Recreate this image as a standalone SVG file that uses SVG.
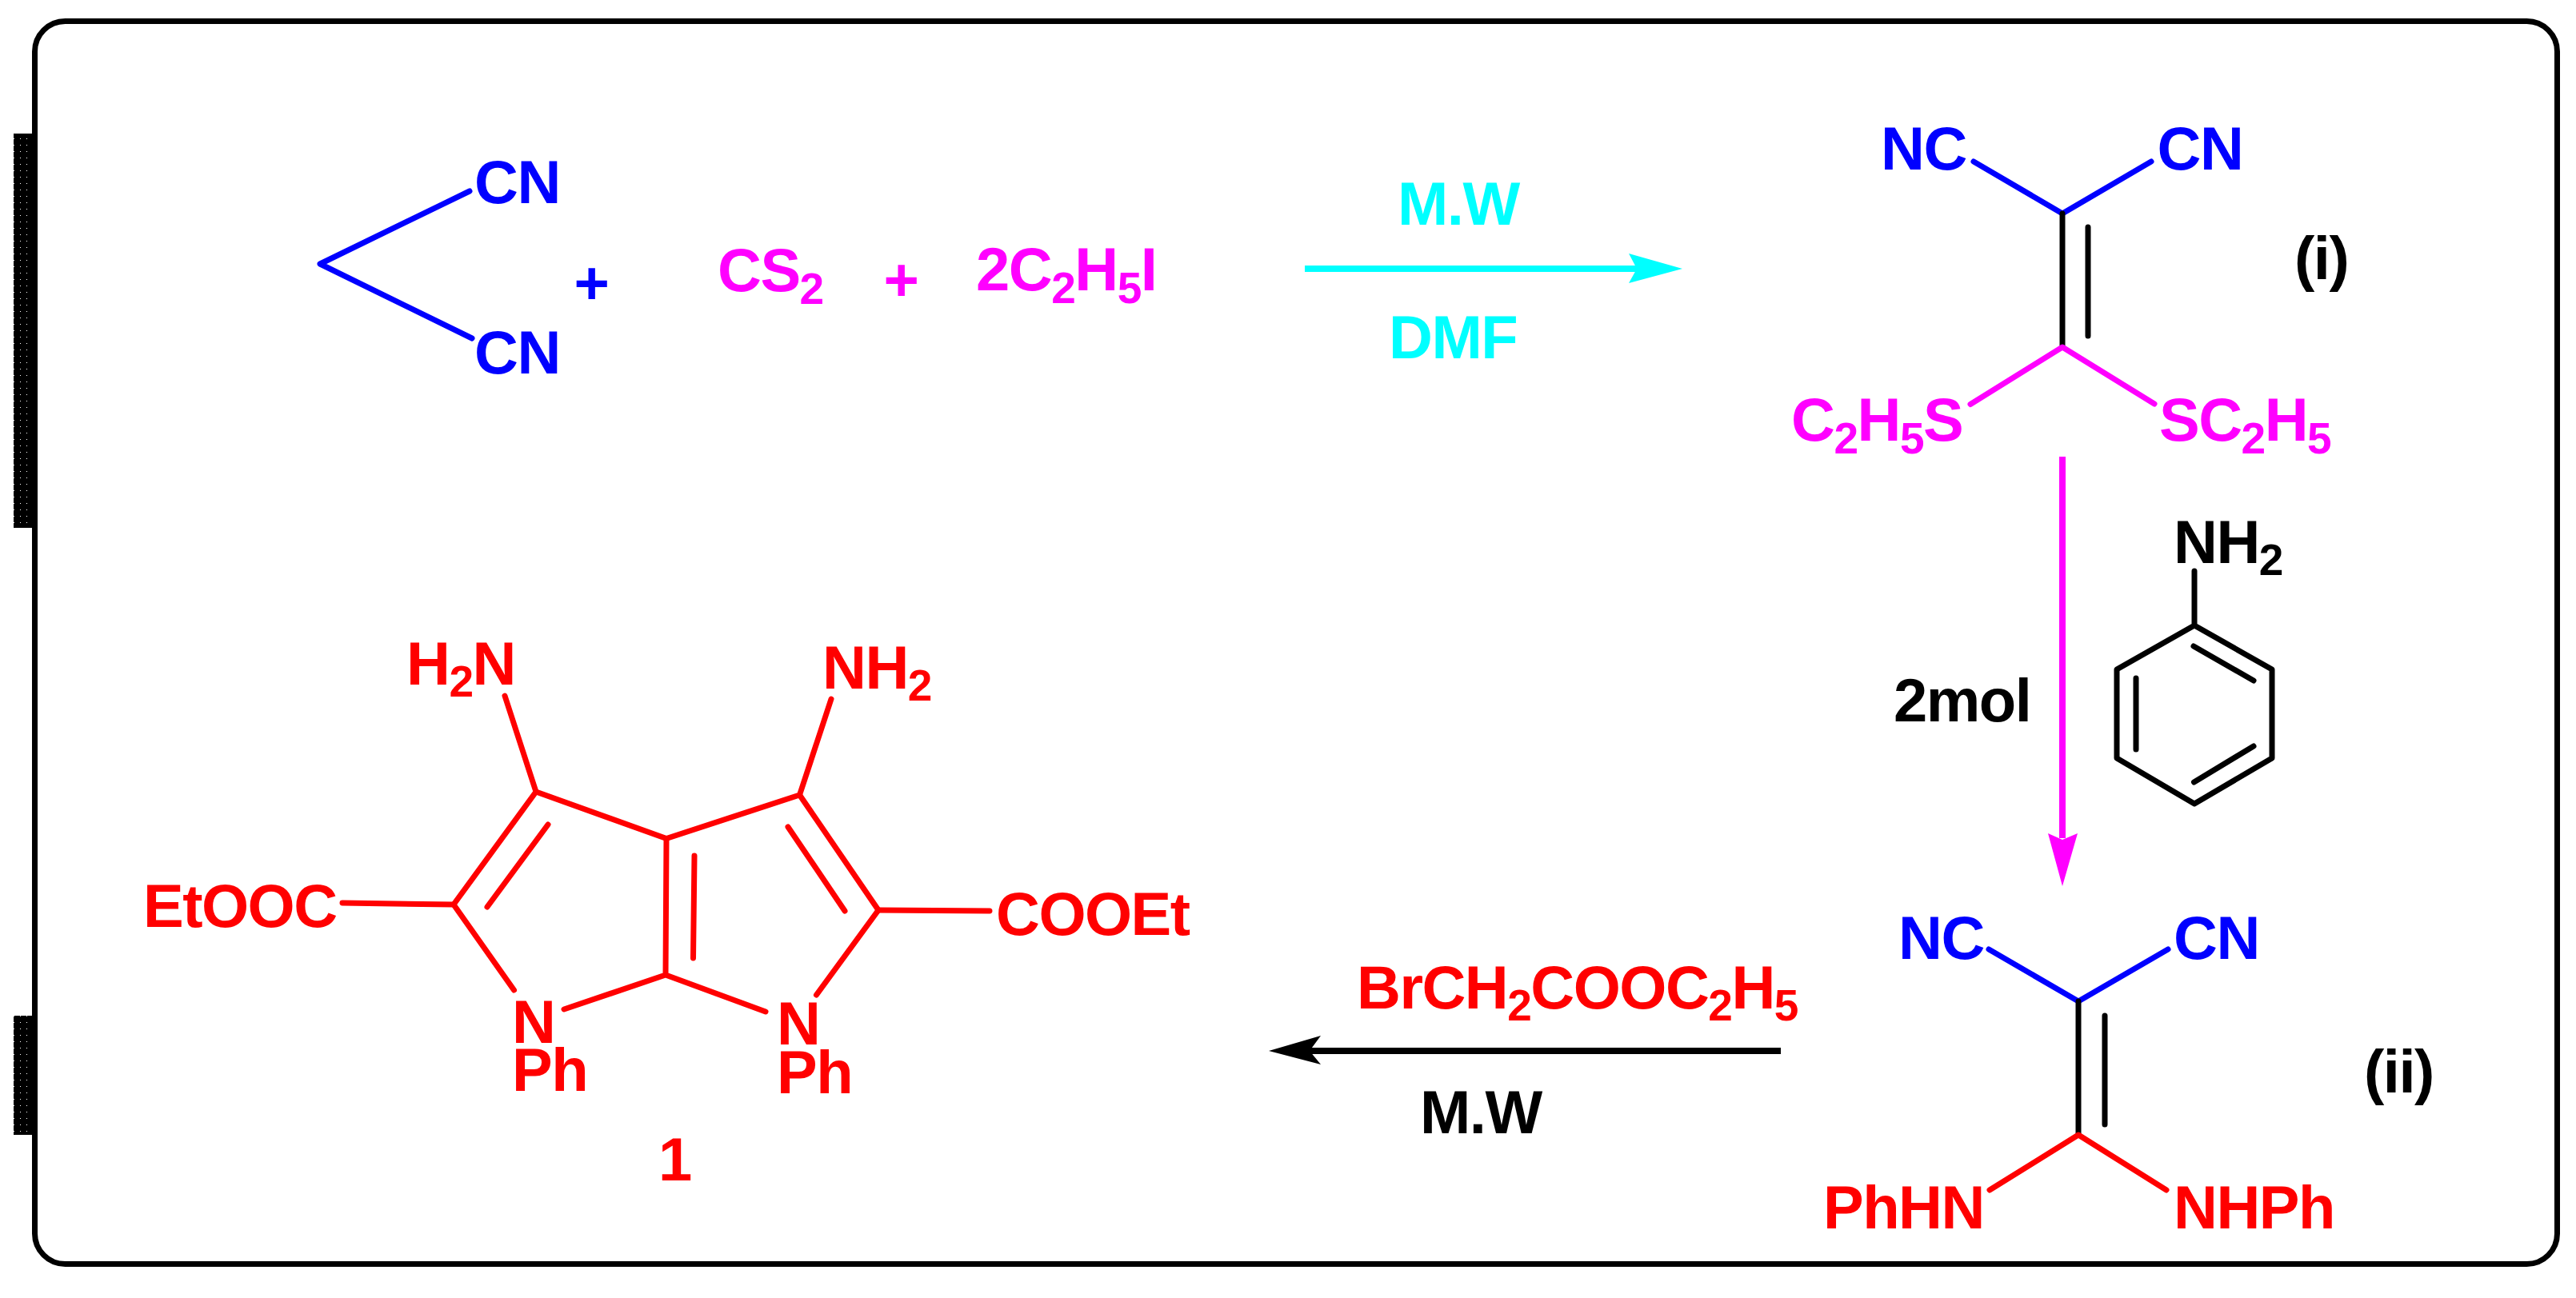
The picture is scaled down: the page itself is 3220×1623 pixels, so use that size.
<svg xmlns="http://www.w3.org/2000/svg" width="3220" height="1623" viewBox="0 0 3220 1623">
<style>
text{font-family:"Liberation Sans",Arial,sans-serif;font-weight:700;font-size:76px;letter-spacing:-1.500px}
.s{font-size:55px}
.blue{fill:#00f}.mag{fill:#f0f}.cyan{fill:#0ff}.red{fill:#f00}.blk{fill:#000}
.b{fill:none;stroke-width:7;stroke-linecap:round;stroke-linejoin:round}
.bb{stroke:#00f}.bm{stroke:#f0f}.br{stroke:#f00}.bk{stroke:#000}
</style>
<defs>
<pattern id="dots" patternUnits="userSpaceOnUse" x="17" y="173" width="8" height="8"><rect width="8" height="8" fill="#000"/><rect width="1" height="1" fill="#fff"/></pattern>
</defs>
<rect width="3220" height="1623" fill="#fff"/>
<g id="frame">
<rect x="43.500" y="26.500" width="3153" height="1554" rx="38" ry="38" fill="none" stroke="#000" stroke-width="7"/>
<rect x="17" y="167" width="30" height="493" fill="#000"/>
<rect x="17" y="167" width="24" height="493" fill="url(#dots)"/>
<rect x="17" y="1270" width="30" height="149" fill="#000"/>
<g transform="translate(0,1)"><rect x="17" y="1269" width="24" height="149" fill="url(#dots)"/></g>
</g>
<g id="malononitrile">
<path class="b bb" d="M587 239L400 330L590 423"/>
<text class="blue" x="593" y="254">CN</text>
<text class="blue" x="593" y="467">CN</text>
</g>
<text id="plus-1" class="blue" x="739" y="380" text-anchor="middle">+</text>
<text id="cs2" class="mag" x="897" y="364">CS<tspan class="s" dy="16">2</tspan></text>
<text id="plus-2" class="mag" x="1126" y="376" text-anchor="middle">+</text>
<text id="ethyl-iodide" class="mag" x="1220" y="363">2C<tspan class="s" dy="16">2</tspan><tspan dy="-16">H</tspan><tspan class="s" dy="16">5</tspan><tspan dy="-16">I</tspan></text>
<g id="step1-labels">
<text class="cyan" x="1747" y="281">M.W</text>
<text class="cyan" x="1736" y="448">DMF</text>
</g>
<g id="compound-i">
<path class="b bb" d="M2467 202L2578 267L2689 202"/>
<path class="b bk" d="M2578 267V434M2610 284V420"/>
<path class="b bm" d="M2463 505.500L2578 434L2693 505"/>
<text class="blue" x="2351" y="212">NC</text>
<text class="blue" x="2696.500" y="212">CN</text>
<text class="mag" x="2239" y="551">C<tspan class="s" dy="16">2</tspan><tspan dy="-16">H</tspan><tspan class="s" dy="16">5</tspan><tspan dy="-16">S</tspan></text>
<text class="mag" x="2699" y="551">SC<tspan class="s" dy="16">2</tspan><tspan dy="-16">H</tspan><tspan class="s" dy="16">5</tspan></text>
<text class="blk" x="2868" y="349">(i)</text>
</g>
<g id="aniline">
<path class="b bk" d="M2743 714V782L2840 837V948L2743 1005L2646 948V837L2743 782"/>
<path class="b bk" d="M2742 808L2817 851M2670 848V937M2817 933L2742.500 978"/>
<text class="blk" x="2717" y="704">NH<tspan class="s" dy="15">2</tspan></text>
<text class="blk" x="2367" y="902">2mol</text>
</g>
<g id="compound-ii">
<path class="b bb" d="M2486 1187L2598 1252L2710 1187"/>
<path class="b bk" d="M2598 1252V1419M2631 1270V1406"/>
<path class="b br" d="M2487 1488L2598 1419L2708 1488"/>
<text class="blue" x="2373" y="1199">NC</text>
<text class="blue" x="2717" y="1199">CN</text>
<text class="red" x="2279" y="1536">PhHN</text>
<text class="red" x="2717" y="1536">NHPh</text>
<text class="blk" x="2955" y="1366">(ii)</text>
</g>
<g id="step3-labels">
<text class="red" x="1696" y="1261">BrCH<tspan class="s" dy="15">2</tspan><tspan dy="-15">COOC</tspan><tspan class="s" dy="15">2</tspan><tspan dy="-15">H</tspan><tspan class="s" dy="15">5</tspan></text>
<text class="blk" x="1775" y="1417">M.W</text>
</g>
<g id="compound-1">
<path class="b br" d="M631 870L670 990L833 1048.500L999.500 994L1039 874"/>
<path class="b br" d="M833 1048.500L832 1219M670 990L567 1131L642.500 1238M705 1262L832 1219L957 1265M1020.500 1244L1098 1138L999.500 994"/>
<path class="b br" d="M685 1031L609 1134M985 1034L1056 1139M868 1070L866.500 1198M428 1129L567 1131M1098 1138L1237 1139"/>
<text class="red" x="508" y="856">H<tspan class="s" dy="15">2</tspan><tspan dy="-15">N</tspan></text>
<text class="red" x="1028" y="861">NH<tspan class="s" dy="15">2</tspan></text>
<text class="red" x="179" y="1159">EtOOC</text>
<text class="red" x="1245" y="1169">COOEt</text>
<text class="red" x="640" y="1304">N</text>
<text class="red" x="640" y="1364">Ph</text>
<text class="red" x="971" y="1306">N</text>
<text class="red" x="971" y="1367">Ph</text>
<text class="red" x="823" y="1476">1</text>
</g>
<g id="connectors">
<path d="M1631 336H2050" stroke="#0ff" stroke-width="8" fill="none"/>
<path d="M2103 336L2036 317L2046 336L2036 354Z" fill="#0ff"/>
<path d="M2578 571V1048" stroke="#f0f" stroke-width="8" fill="none"/>
<path d="M2578 1108L2560 1042L2578 1050L2597 1042Z" fill="#f0f"/>
<path d="M2226 1314H1630" stroke="#000" stroke-width="8" fill="none"/>
<path d="M1586 1314L1651 1295L1637 1314L1651 1331Z" fill="#000"/>
</g>
</svg>
